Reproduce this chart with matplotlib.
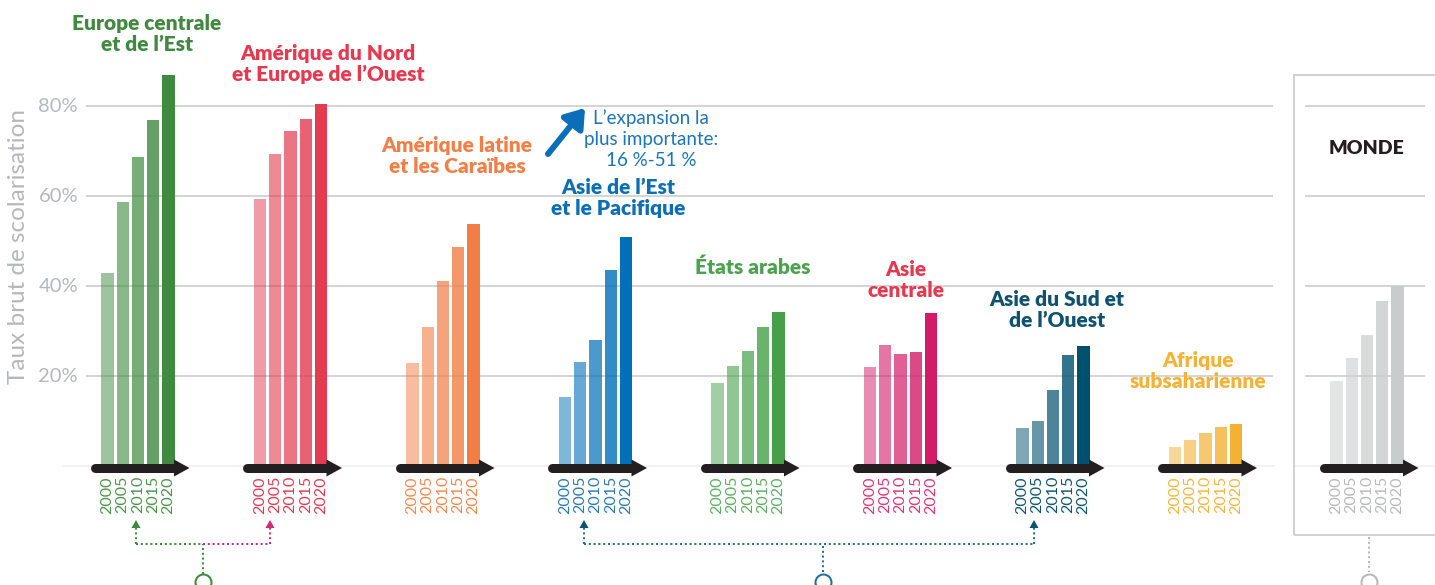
import numpy as np
import matplotlib.pyplot as plt
from matplotlib.patches import Polygon, Rectangle

# données (taux brut de scolarisation, %)
annees = ['2000', '2005', '2010', '2015', '2020']
regions = ["Europe centrale\net de l\u2019Est",
           "Am\u00e9rique du Nord\net Europe de l\u2019Ouest",
           "Am\u00e9rique latine\net les Cara\u00efbes",
           "Asie de l\u2019Est\net le Pacifique",
           "\u00c9tats arabes",
           "Asie\ncentrale",
           "Asie du Sud et\nde l\u2019Ouest",
           "Afrique\nsubsaharienne",
           "MONDE"]
europe_centrale = [42.9, 58.6, 68.7, 77.0, 86.8]
amerique_nord = [59.4, 69.3, 74.4, 77.2, 80.5]
amerique_latine = [22.9, 30.9, 41.1, 48.7, 53.8]
asie_est = [15.3, 23.2, 27.9, 43.5, 50.9]
etats_arabes = [18.4, 22.2, 25.6, 31.0, 34.3]
asie_centrale = [22.1, 27.0, 24.9, 25.3, 34.1]
asie_sud = [8.5, 10.1, 17.0, 24.7, 26.6]
afrique = [4.2, 5.7, 7.3, 8.7, 9.3]
monde = [18.9, 24.1, 29.2, 36.7, 40.0]
valeurs = [europe_centrale, amerique_nord, amerique_latine, asie_est,
           etats_arabes, asie_centrale, asie_sud, afrique, monde]
graduations = [20, 40, 60, 80]
note = "L\u2019expansion la\nplus importante:\n16 %-51 %"

couleurs_barres = ['#3e8a3e', '#e33b50', '#f27d45', '#0070b8', '#45a049',
                   '#d31b68', '#00506e', '#f3b233', '#c9cccd']
couleurs_titres = ['#3f8a3f', '#e8384f', '#f47f46', '#0b6fb8', '#4ba34e',
                   '#e63950', '#0d5273', '#f5b235', '#231f20']
couleurs_annees = ['#4a964a', '#e8384f', '#f6874e', '#2a7ab8', '#5bb05f',
                   '#e2337a', '#0f5575', '#f7b638', '#b7b9ba']
alphas = [0.5, 0.6, 0.7, 0.8, 1.0]

plt.rcParams['font.family'] = ['Lato', 'DejaVu Sans']

W, H = 1435, 585
fig = plt.figure(figsize=(W / 100, H / 100), dpi=100)
ax = fig.add_axes([0, 0, 1, 1])
y0, k = 466, 4.5            # pixel de la base, pixels par %
ax.set_xlim(0, W)
ax.set_ylim(-(H - y0) / k, y0 / k)
ax.axis('off')

def Y(py):                  # pixel vertical -> valeur
    return (y0 - py) / k

pt = 0.72                   # 1 px en points

# positions des groupes
centres = list(138 + 152.5 * np.arange(8)) + [1367]
pas, larg = 15.3, 12.3
offsets = (np.arange(5) - 2) * pas

# grille
ax.hlines(graduations, 86, 1273, color='#d3d5d6', lw=2 * pt, zorder=1)
ax.hlines(graduations, 1305, 1425, color='#d3d5d6', lw=2 * pt, zorder=1)
ax.hlines(0, 62, 1275, color='#eeeeee', lw=1.5 * pt, zorder=1)
ax.hlines(0, 1294, W, color='#eeeeee', lw=1.5 * pt, zorder=1)
for g in graduations:
    ax.text(78, g, '%d%%' % g, ha='right', va='center', fontsize=14.5,
            color='#b5b8ba')
ax.text(19, Y(246), 'Taux brut de scolarisation', rotation=90, ha='center',
        va='center', fontsize=17.5, color='#b5b8ba')

# cadre MONDE
ax.add_patch(Rectangle((1294, Y(535)), 200, Y(75) - Y(535), fill=False,
                       ec='#d0d2d3', lw=2 * pt, zorder=1))

# barres, flèches, années
for i, (c, vals) in enumerate(zip(centres, valeurs)):
    xs = c + offsets
    for x, v, a in zip(xs, vals, alphas):
        ax.bar(x, v, width=larg, color=couleurs_barres[i], alpha=a,
               lw=0, zorder=2)
    ax.plot([c - 43.5, c + 37], [Y(468), Y(468)], color='#231f20',
            lw=9 * pt, solid_capstyle='round', zorder=3)
    ax.add_patch(Polygon([(c + 36, Y(459.5)), (c + 51.5, Y(468)),
                          (c + 36, Y(476.5))], closed=True,
                         color='#231f20', lw=0, zorder=3))
    for x, an in zip(xs, annees):
        ax.text(x, Y(476), an, rotation=90, ha='center', va='top',
                fontsize=11.5, color=couleurs_annees[i])

# titres des régions
pos_titres = [(147, 34), (328, 64), (457, 156), (618, 198), (753, 267),
              (906, 280), (1057, 310), (1198, 371), (1367, 148)]
for i, (x, y) in enumerate(pos_titres):
    ax.text(x, Y(y), regions[i], ha='center', va='center',
            fontsize=15 if i < 8 else 14, fontweight='heavy',
            color=couleurs_titres[i], linespacing=1.15)

# note sur l'expansion
bleu = '#1a75bb'
ax.text(651, Y(139), note, ha='center', va='center', fontsize=13.5,
        color=bleu, linespacing=1.28)
ax.annotate('', xy=(585, Y(108)), xytext=(548, Y(154)),
            arrowprops=dict(arrowstyle='-|>,head_length=0.5,head_width=0.35',
                            color='#0a6fb8', lw=6 * pt, capstyle='round',
                            shrinkA=0, shrinkB=0, mutation_scale=22))

# connecteurs en pointillé
vert, rose, bleu2, gris = '#3e8a3e', '#d42a6e', '#1f6f97', '#b5b7b8'
ls = dict(ls=(0, (1, 1.4)), lw=2 * pt, zorder=2)
ax.plot([203, 203], [Y(574), Y(544)], color=vert, **ls)
ax.plot([136, 203], [Y(544), Y(544)], color=vert, **ls)
ax.plot([136, 136], [Y(544), Y(526)], color=vert, **ls)
ax.plot([203, 270], [Y(544), Y(544)], color=rose, **ls)
ax.plot([270, 270], [Y(544), Y(526)], color=rose, **ls)
ax.plot([823, 823], [Y(572), Y(544)], color=bleu2, **ls)
ax.plot([584, 1034], [Y(544), Y(544)], color=bleu2, **ls)
ax.plot([584, 584], [Y(544), Y(526)], color=bleu2, **ls)
ax.plot([1034, 1034], [Y(544), Y(526)], color=bleu2, **ls)
ax.plot([1369, 1369], [Y(537), Y(572)], color=gris, **ls)
for x, col in [(136, vert), (270, rose), (584, '#0d5273'), (1034, '#0d5273')]:
    ax.add_patch(Polygon([(x - 4.5, Y(528)), (x, Y(520)), (x + 4.5, Y(528))],
                         closed=True, color=col, lw=0, zorder=3))
for x, col in [(203, vert), (823, bleu2), (1369, gris)]:
    ax.plot(x, Y(582), 'o', ms=16 * pt, mfc='white', mec=col, mew=2 * pt,
            clip_on=False, zorder=4)

plt.savefig('out.png', dpi=100)
